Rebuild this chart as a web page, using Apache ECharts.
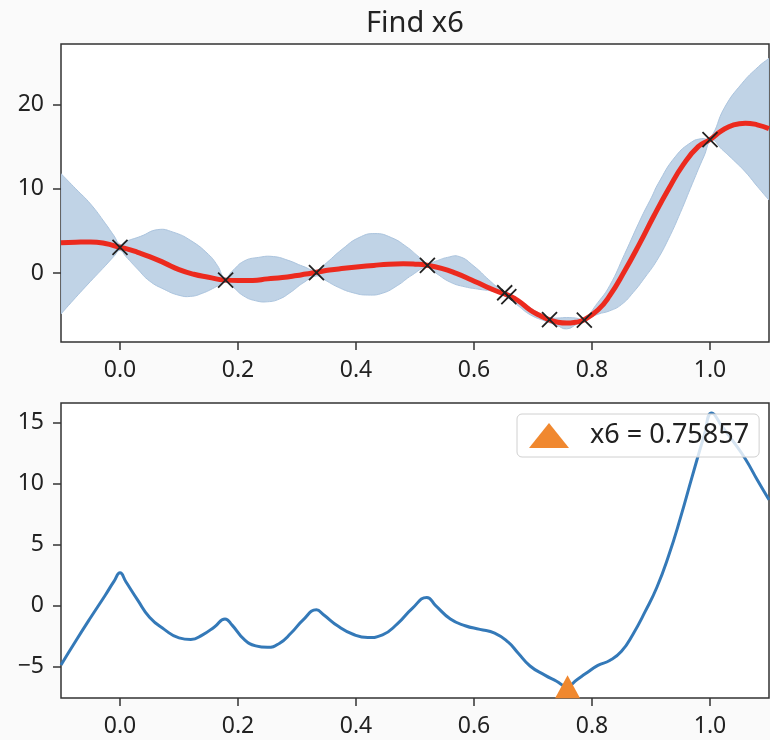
<!DOCTYPE html>
<html><head><meta charset="utf-8">
<script src="https://cdn.jsdelivr.net/npm/echarts@6/dist/echarts.min.js"></script>
<style>html,body{margin:0;padding:0;background:#fafafa}#c{width:770px;height:740px}</style>
</head><body><div id="c"></div>
<script>
// ---- data ----
// posterior mean (red)
const meanX = [-0.10,-0.075,-0.05,-0.025,0.0,0.01,0.03,0.05,0.075,0.10,0.125,0.15,0.178,0.20,0.225,0.25,0.275,0.30,0.315,0.333,0.355,0.38,0.405,0.43,0.455,0.48,0.50,0.52,0.545,0.57,0.595,0.62,0.64,0.658,0.675,0.695,0.71,0.727,0.742,0.757,0.772,0.785,0.81,0.83,0.855,0.88,0.905,0.93,0.955,0.98,1.0,1.02,1.04,1.06,1.08,1.10];
const meanVals = [3.6,3.65,3.68,3.5,3.05,2.9,2.45,1.95,1.2,0.4,-0.15,-0.5,-0.85,-0.9,-0.88,-0.7,-0.55,-0.3,-0.12,0.08,0.35,0.55,0.73,0.9,1.05,1.1,1.05,0.92,0.55,-0.05,-0.8,-1.6,-2.2,-2.65,-3.3,-4.4,-5.0,-5.55,-5.85,-5.95,-5.85,-5.62,-4.4,-2.7,0.2,3.4,6.8,10.0,12.9,15.0,15.85,16.9,17.6,17.8,17.6,17.15];
// upper edge of the confidence band
const upperX = [-0.10,-0.075,-0.05,-0.025,-0.01,0.0,0.01,0.035,0.064,0.09,0.12,0.15,0.165,0.178,0.19,0.21,0.235,0.26,0.285,0.31,0.333,0.345,0.378,0.405,0.432,0.46,0.486,0.505,0.521,0.535,0.555,0.575,0.60,0.625,0.645,0.658,0.675,0.695,0.71,0.727,0.742,0.757,0.772,0.786,0.81,0.83,0.855,0.884,0.901,0.912,0.941,0.969,0.986,1.0,1.025,1.054,1.082,1.10];
const upperVals = [11.8,10.0,8.2,5.9,4.4,3.4,3.75,4.35,5.15,4.85,3.85,2.2,0.9,-0.6,0.2,1.4,1.85,1.95,1.5,0.8,0.3,0.9,2.9,4.2,4.68,4.2,3.1,2.0,1.1,1.4,1.85,1.95,0.8,-0.8,-1.95,-2.4,-3.1,-4.1,-4.75,-5.3,-5.35,-5.3,-5.35,-5.45,-3.5,-1.5,2.2,6.65,9.0,10.6,13.8,15.56,15.96,16.0,19.7,22.5,24.5,25.5];
// lower confidence bound = acquisition curve of the lower panel
const acqX = [-0.10,-0.075,-0.05,-0.025,-0.01,0.0,0.01,0.03,0.05,0.075,0.10,0.12,0.14,0.16,0.178,0.19,0.21,0.23,0.25,0.27,0.29,0.31,0.333,0.345,0.37,0.395,0.42,0.445,0.47,0.495,0.52,0.535,0.56,0.585,0.61,0.635,0.658,0.675,0.695,0.72,0.74,0.757,0.775,0.79,0.81,0.83,0.85,0.87,0.89,0.91,0.93,0.95,0.97,0.99,1.003,1.02,1.04,1.06,1.08,1.10];
const acqY = [-4.86,-2.9,-1.0,0.85,2.0,2.68,1.95,0.45,-0.95,-1.95,-2.65,-2.78,-2.4,-1.75,-1.09,-1.6,-2.75,-3.3,-3.42,-3.1,-2.25,-1.2,-0.35,-0.75,-1.7,-2.35,-2.62,-2.4,-1.5,-0.25,0.66,0.0,-1.1,-1.65,-1.95,-2.25,-3.0,-3.9,-4.95,-5.7,-6.2,-6.64,-6.05,-5.55,-4.9,-4.5,-3.75,-2.3,-0.5,1.5,4.1,7.2,10.6,13.9,15.77,14.7,13.4,12.0,10.3,8.66];
// observations (black x markers)
const obsX = [0.0,0.179,0.333,0.521,0.652,0.659,0.728,0.787,1.0];
const obsY = [3.05,-0.85,0.05,0.9,-2.35,-2.8,-5.55,-5.6,15.85];
// proposed next point
const nextName = 'x6 = 0.75857';
const nextX = 0.75857;
const nextY = -6.64;
const xTicks = [0.0,0.2,0.4,0.6,0.8,1.0];
const yTicksTop = [0,10,20];
const yTicksBottom = [-5,0,5,10,15];
const titleText = 'Find x6';

// ---- chart ----
const FONT = 'Noto Sans';
const AX = '#333';
const chart = echarts.init(document.getElementById('c'));
const fmtX = v => v.toFixed(1);
const fmtY = v => String(v).replace('-', '\u2212');
function xAxisCfg(gi){
  return {type:'value', gridIndex:gi, min:-0.1, max:1.1,
    axisLine:{show:false, onZero:false}, splitLine:{show:false},
    axisTick:{show:true, length:8, customValues:xTicks, lineStyle:{color:AX, width:1.5}},
    axisLabel:{customValues:xTicks, formatter:fmtX, fontSize:23, fontFamily:FONT, color:'#222', margin:17}};
}
function yAxisCfg(gi, mn, mx, ticks){
  return {type:'value', gridIndex:gi, min:mn, max:mx,
    axisLine:{show:false, onZero:false}, splitLine:{show:false},
    axisTick:{show:true, length:8, customValues:ticks, lineStyle:{color:AX, width:1.5}},
    axisLabel:{customValues:ticks, formatter:fmtY, fontSize:23, fontFamily:FONT, color:'#222', margin:17}};
}
const zip = (a, b) => a.map((x, i) => [x, b[i]]);
const xSym = 'path://M0,0L10,10M10,0L0,10';

function bandItem(params, api){
  const up = upperX.map((x, i) => api.coord([x, upperVals[i]]));
  const lo = acqX.map((x, i) => api.coord([x, acqY[i]])).reverse();
  // duplicate the corner points so the smoothing does not bulge at the ends
  const pts = [up[0]].concat(up, [up[up.length-1], lo[0]], lo, [lo[lo.length-1]]);
  return {type:'polygon', shape:{points:pts, smooth:0.5},
    style:{fill:'#c0d3e6', stroke:'#abc4de', lineWidth:1}};
}

chart.setOption({
  animation:false,
  backgroundColor:'#fafafa',
  title:{text:titleText, left:366, top:9, padding:0,
    textStyle:{fontFamily:FONT, fontSize:29, fontWeight:'normal', color:'#222'}},
  grid:[
    {left:61, top:44, width:708, height:298, show:true, borderColor:AX, borderWidth:1.5, backgroundColor:'#fff'},
    {left:61, top:403, width:708, height:295, show:true, borderColor:AX, borderWidth:1.5, backgroundColor:'#fff'}
  ],
  xAxis:[xAxisCfg(0), xAxisCfg(1)],
  yAxis:[yAxisCfg(0,-8.2,27.2,yTicksTop), yAxisCfg(1,-7.57,16.59,yTicksBottom)],
  legend:{data:[{name:nextName, icon:'triangle'}], left:517, top:414,
    itemWidth:40, itemHeight:25, selectedMode:false,
    textStyle:{fontFamily:FONT, fontSize:27, color:'#222', padding:[0,0,0,16]},
    backgroundColor:'rgba(255,255,255,0.8)', borderColor:'#d0d0d0', borderWidth:1, borderRadius:5,
    padding:[8,10,8,12]},
  series:[
    {type:'custom', xAxisIndex:0, yAxisIndex:0, data:[[0,0]], renderItem:bandItem, clip:true, z:1, silent:true},
    {type:'line', xAxisIndex:0, yAxisIndex:0, data:zip(meanX, meanVals), smooth:0.5,
     symbol:'none', lineStyle:{color:'#ec2a1e', width:5}, z:3, silent:true},
    {type:'scatter', xAxisIndex:0, yAxisIndex:0, data:zip(obsX, obsY),
     symbol:xSym, symbolSize:15, itemStyle:{color:'rgba(0,0,0,0)', borderColor:'#222', borderWidth:1.8, opacity:1}, z:4, silent:true},
    {type:'line', xAxisIndex:1, yAxisIndex:1, data:zip(acqX, acqY), smooth:0.5,
     symbol:'none', lineStyle:{color:'#3479b8', width:3}, z:2, silent:true},
    {type:'scatter', name:nextName, xAxisIndex:1, yAxisIndex:1, data:[[nextX,nextY]],
     symbol:'triangle', symbolSize:[25,23], itemStyle:{color:'#f0882f', opacity:1}, z:4, silent:true}
  ]
});
</script></body></html>
